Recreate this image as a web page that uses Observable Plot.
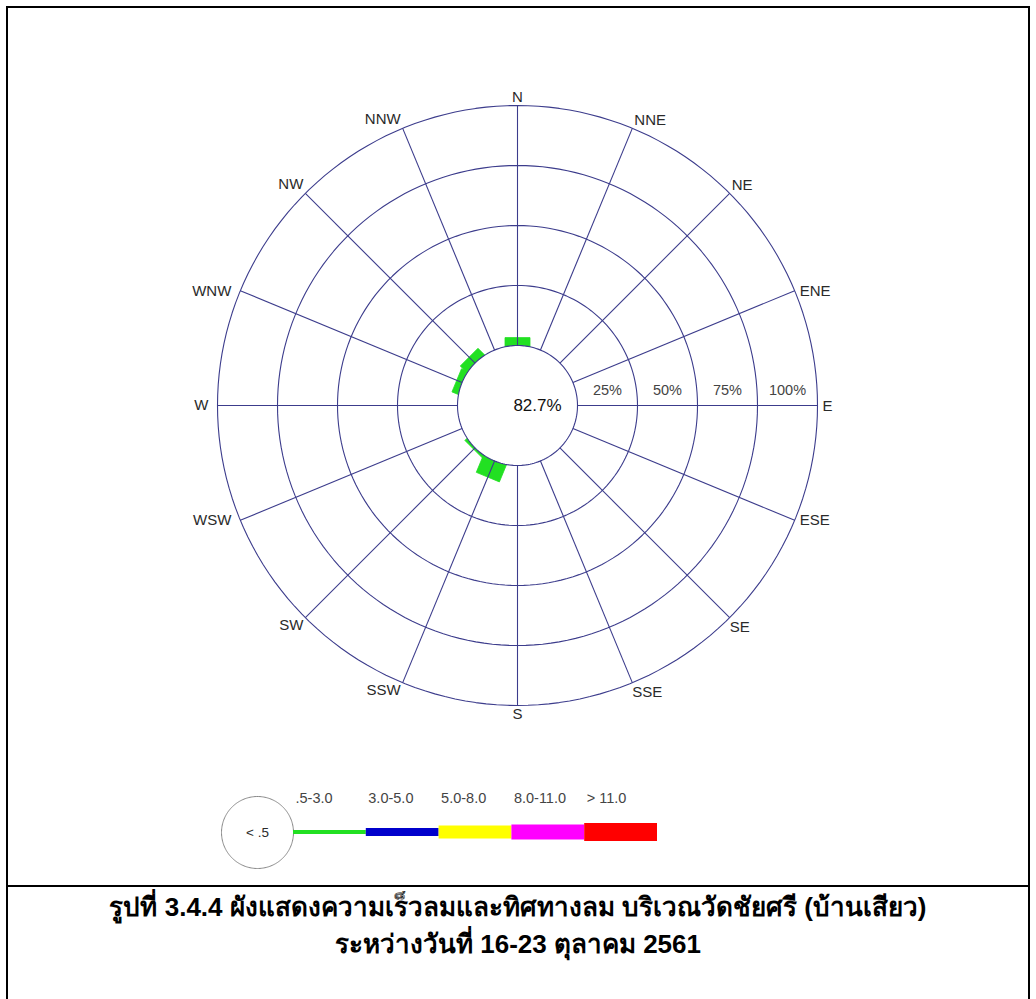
<!DOCTYPE html>
<html>
<head>
<meta charset="utf-8">
<script src="https://cdn.jsdelivr.net/npm/d3@7"></script>
<script src="https://cdn.jsdelivr.net/npm/@observablehq/plot@0.6"></script>
<style>
  html, body { margin: 0; padding: 0; background: #fff; }
  #page { position: relative; width: 1036px; height: 999px; overflow: hidden; background: #fff; }
  #chart { position: absolute; left: 0; top: 0; }
  .frame { position: absolute; background: #000; }
  #caption { position: absolute; left: 0; top: 889px; width: 1036px; text-align: center;
    font-family: "Liberation Sans Narrow", "Liberation Sans", Arial, sans-serif; font-weight: bold; font-size: 26px; line-height: 37px; color: #000; }
</style>
</head>
<body>
<div id="page">
  <div id="chart"></div>
  <div class="frame" style="left:6px;top:6px;width:2px;height:993px"></div>
  <div class="frame" style="left:1028px;top:6px;width:2px;height:993px"></div>
  <div class="frame" style="left:6px;top:6px;width:1024px;height:2px"></div>
  <div class="frame" style="left:6px;top:885px;width:1024px;height:2px"></div>
  <div id="caption">
    <div>รูปที่ 3.4.4 ผังแสดงความเร็วลมและทิศทางลม บริเวณวัดชัยศรี (บ้านเสียว)</div>
    <div>ระหว่างวันที่ 16-23 ตุลาคม 2561</div>
  </div>
</div>
<script>
// ---- data ----
const directions = ["N","NNE","NE","ENE","E","ESE","SE","SSE","S","SSW","SW","WSW","W","WNW","NW","NNW"];
// frequency (%) of the 0.5-3.0 m/s class per direction
const freqPct = [3.3, 0, 0, 0, 0, 0, 0, 0, 0, 7.3, 0.8, 0, 0, 2.4, 3.5, 0];
const calmPct = 82.7;
const ringPct = [25, 50, 75, 100];
const ringLabels = ["25%", "50%", "75%", "100%"];
const speedClasses = [".5-3.0", "3.0-5.0", "5.0-8.0", "8.0-11.0", "> 11.0"];
const classColors = ["#22e022", "#0000cc", "#ffff00", "#ff00ff", "#ff0000"];
const calmLabel = "< .5";

// ---- layout (units: 1 unit = 2.4 px, 1 % = 1 unit) ----
const U = 2.4;
const W = 1036, H = 886, CX = 517, CY = 405;
const R0 = 25;                 // calm circle radius in units
const rOf = p => R0 + p;
const ang = i => i * Math.PI / 8;
const pol = (r, a) => ({x: r * Math.sin(a), y: r * Math.cos(a)});

const circlePts = (r, id, cx = 0, cy = 0) => d3.range(0, 361, 2).map(deg => {
  const a = deg * Math.PI / 180;
  return {id, x: cx + r * Math.sin(a), y: cy + r * Math.cos(a)};
});

const rings = [R0, ...ringPct.map(rOf)].flatMap((r, k) => circlePts(r, "ring" + k));
const calmFill = circlePts(R0, "calm");

const spokes = directions.map((d, i) => {
  const a = ang(i), p1 = pol(R0, a), p2 = pol(rOf(100), a);
  return {d, x1: p1.x, y1: p1.y, x2: p2.x, y2: p2.y};
});

const hw = 12.5 / U;
const bars = directions.flatMap((d, i) => {
  const p = freqPct[i];
  if (!(p > 0)) return [];
  const a = ang(i), s = Math.sin(a), c = Math.cos(a);
  const t = {x: c, y: -s};
  const rin = R0 - 3, rout = rOf(p);
  return [
    {d, x: rin * s - hw * t.x, y: rin * c - hw * t.y},
    {d, x: rout * s - hw * t.x, y: rout * c - hw * t.y},
    {d, x: rout * s + hw * t.x, y: rout * c + hw * t.y},
    {d, x: rin * s + hw * t.x, y: rin * c + hw * t.y}
  ];
});

const labelPts = directions.map((d, i) => ({d, i, ...pol(rOf(100), ang(i))}));
const grp = (ids) => labelPts.filter(l => ids.includes(l.i));

// legend geometry
const legCx = (257 - CX) / U, legCy = (CY - 832) / U, legR = 36 / U;
const segW = 72.8 / U, segX0 = legCx + legR;
const segThick = [4, 8, 13, 15, 18];
const legendSegs = speedClasses.map((c, i) => ({
  c, color: classColors[i],
  x1: segX0 + i * segW, x2: segX0 + (i + 1) * segW,
  y1: legCy - segThick[i] / 2 / U, y2: legCy + segThick[i] / 2 / U
}));
const legendCircle = circlePts(legR, "leg", legCx, legCy);
const legLabY = (CY - 798) / U;

const gridColor = "#3c3c8c";
const txt = "#2a2a2a";
const fs = 15;

const chart = Plot.plot({
  width: W, height: H,
  margin: 0,
  x: {domain: [-CX / U, (W - CX) / U], range: [0, W], axis: null},
  y: {domain: [-(H - CY) / U, CY / U], range: [H, 0], axis: null},
  color: {type: "identity"},
  style: {fontFamily: "'Liberation Sans', Arial, sans-serif", background: "#fff"},
  marks: [
    Plot.line(bars, {x: "x", y: "y", z: "d", fill: classColors[0], stroke: classColors[0], strokeWidth: 0.8}),
    Plot.line(calmFill, {x: "x", y: "y", z: "id", fill: "#fff", stroke: null}),
    Plot.line(rings, {x: "x", y: "y", z: "id", stroke: gridColor, strokeWidth: 1.1}),
    Plot.link(spokes, {x1: "x1", y1: "y1", x2: "x2", y2: "y2", stroke: gridColor, strokeWidth: 1.1}),
    // direction labels
    Plot.text(grp([0]), {x: "x", y: "y", text: "d", textAnchor: "middle", lineAnchor: "bottom", dy: -4, fontSize: fs, fill: txt}),
    Plot.text(grp([1, 2]), {x: "x", y: "y", text: "d", textAnchor: "start", lineAnchor: "bottom", dx: 2, dy: -3, fontSize: fs, fill: txt}),
    Plot.text(grp([3, 5]), {x: "x", y: "y", text: "d", textAnchor: "start", lineAnchor: "middle", dx: 5, dy: 0, fontSize: fs, fill: txt}),
    Plot.text(grp([4]), {x: "x", y: "y", text: "d", textAnchor: "start", lineAnchor: "middle", dx: 5, dy: 1, fontSize: fs, fill: txt}),
    Plot.text(grp([6, 7]), {x: "x", y: "y", text: "d", textAnchor: "start", lineAnchor: "top", dx: 0, dy: 4, fontSize: fs, fill: txt}),
    Plot.text(grp([8]), {x: "x", y: "y", text: "d", textAnchor: "middle", lineAnchor: "top", dy: 3, fontSize: fs, fill: txt}),
    Plot.text(grp([9, 10]), {x: "x", y: "y", text: "d", textAnchor: "end", lineAnchor: "top", dx: -2, dy: 2, fontSize: fs, fill: txt}),
    Plot.text(grp([11, 12, 13]), {x: "x", y: "y", text: "d", textAnchor: "end", lineAnchor: "middle", dx: -9, dy: 0, fontSize: fs, fill: txt}),
    Plot.text(grp([14, 15]), {x: "x", y: "y", text: "d", textAnchor: "end", lineAnchor: "bottom", dx: -2, dy: -4, fontSize: fs, fill: txt}),
    // ring labels
    Plot.text(ringPct, {x: p => rOf(p) - 12.5, y: () => 0, text: (p, i) => ringLabels[i], dy: -15, fontSize: 14.5, fill: "#444"}),
    // calm
    Plot.text([calmPct], {x: () => 0, y: () => 0, text: p => p.toFixed(1) + "%", dx: 20, fontSize: 17, fill: "#111"}),
    // legend
    Plot.line(legendCircle, {x: "x", y: "y", z: "id", stroke: "#888", strokeWidth: 1}),
    Plot.text([calmLabel], {x: () => legCx, y: () => legCy, text: d => d, fontSize: 13.5, fill: txt}),
    Plot.rect(legendSegs, {x1: "x1", x2: "x2", y1: "y1", y2: "y2", fill: "color"}),
    Plot.text(legendSegs, {x: "x1", y: () => legLabY, text: "c", textAnchor: "start", dx: 2, fontSize: 14.5, fill: "#444"})
  ]
});
document.getElementById("chart").appendChild(chart);
</script>
</body>
</html>
